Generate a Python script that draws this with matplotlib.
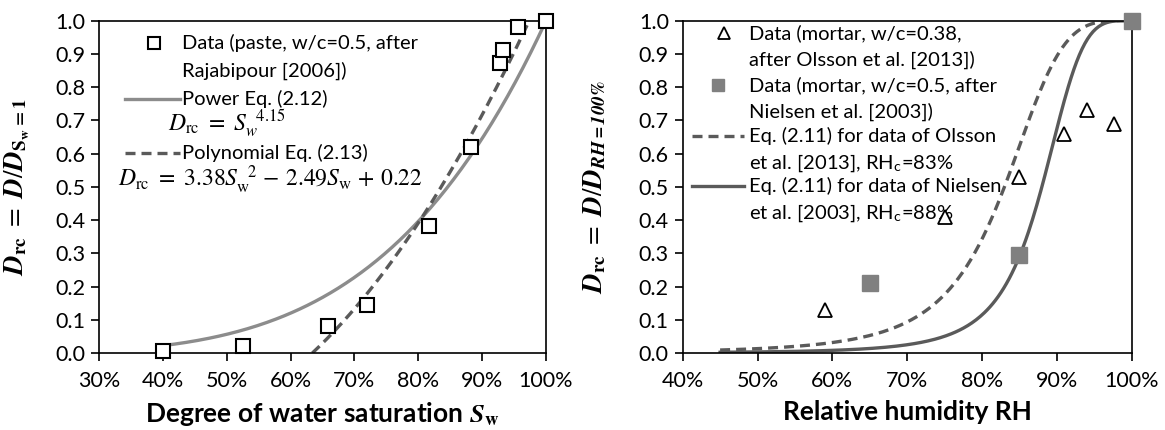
import numpy as np
import matplotlib
matplotlib.use("Agg")
from matplotlib import pyplot as plt
from matplotlib.ticker import PercentFormatter, MultipleLocator

plt.rcParams['font.family'] = ['Lato', 'DejaVu Sans']
plt.rcParams['mathtext.fontset'] = 'stix'

# left panel: paste data after Rajabipour [2006]
sw_data = [0.40, 0.526, 0.659, 0.720, 0.816, 0.883, 0.928, 0.932, 0.956, 1.0]
drc_sw_data = [0.005, 0.022, 0.082, 0.143, 0.381, 0.619, 0.872, 0.912, 0.982, 1.0]
power_exp = 4.15
poly_coef = [3.38, -2.49, 0.22]
sw_power_range = [0.40, 1.0]
sw_poly_range = [0.634, 1.0]

# right panel: mortar data
rh_olsson = [0.59, 0.75, 0.85, 0.91, 0.94, 0.976]
drc_olsson = [0.13, 0.41, 0.53, 0.66, 0.73, 0.69]
rh_nielsen = [0.65, 0.85, 1.0]
drc_nielsen = [0.21, 0.295, 1.0]
rh_c = [0.83, 0.88]
eq_exp = 4
rh_range = [0.45, 1.0]

c_light = '#8c8c8c'
c_dark = '#5a5a5a'
c_fill = '#808080'
fs = 14.5


def style_axes(ax, xmin):
    ax.set_xlim(xmin, 1.0)
    ax.set_ylim(0, 1.0)
    ax.xaxis.set_major_locator(MultipleLocator(0.1))
    ax.yaxis.set_major_locator(MultipleLocator(0.1))
    ax.xaxis.set_major_formatter(PercentFormatter(xmax=1, decimals=0))
    ax.yaxis.set_major_formatter(lambda v, p: '%.1f' % v)
    ax.tick_params(direction='out', length=6, width=1.2, labelsize=15.5, colors='black')
    ax.tick_params(axis='x', pad=7)
    ax.tick_params(axis='y', pad=4)
    for s in ax.spines.values():
        s.set_linewidth(1.2)
        s.set_color('black')


fig = plt.figure(figsize=(11.65, 4.30), dpi=100)
ax1 = fig.add_axes([0.085, 0.179, 0.3837, 0.773])
ax2 = fig.add_axes([0.586, 0.179, 0.3854, 0.773])

# ---- left
style_axes(ax1, 0.3)
s = np.linspace(sw_power_range[0], sw_power_range[1], 200)
ax1.plot(s, s ** power_exp, color=c_light, lw=2.4)
s2 = np.linspace(sw_poly_range[0], sw_poly_range[1], 200)
ax1.plot(s2, np.polyval(poly_coef, s2), color=c_dark, lw=2.4, dashes=(3, 1.8))
ax1.plot(sw_data, drc_sw_data, 's', ms=10, mfc='white', mec='black', mew=1.5, clip_on=False, zorder=5)

ax1.set_xlabel(r'Degree of water saturation $\mathbfit{S}_{\mathbf{w}}$', fontsize=19, fontweight='bold')
ax1.xaxis.set_label_coords(0.5, -0.14)
ax1.set_ylabel(r'$\mathbfit{D}_{\mathbf{rc}}\ =\ \mathbfit{D}/\mathbfit{D}_{\mathbf{S_w=1}}$', fontsize=19.5)
ax1.yaxis.set_label_coords(-0.15, 0.5)

# legend drawn by hand
tr = ax1.transAxes
ax1.plot([0.123], [0.932], 's', ms=9, mfc='white', mec='black', mew=1.5, transform=tr)
ax1.text(0.186, 0.932, 'Data (paste, w/c=0.5, after', transform=tr, fontsize=fs, va='center')
ax1.text(0.186, 0.848, 'Rajabipour [2006])', transform=tr, fontsize=fs, va='center')
ax1.plot([0.058, 0.181], [0.764, 0.764], color=c_light, lw=2.4, transform=tr)
ax1.text(0.186, 0.764, 'Power Eq. (2.12)', transform=tr, fontsize=fs, va='center')
ax1.text(0.154, 0.69, r'$D_{\mathrm{rc}}\ =\ S_w^{\ \ 4.15}$', transform=tr, fontsize=17, va='center')
ax1.plot([0.058, 0.181], [0.601, 0.601], color=c_dark, lw=2.4, dashes=(3, 1.8), transform=tr)
ax1.text(0.186, 0.601, 'Polynomial Eq. (2.13)', transform=tr, fontsize=fs, va='center')
ax1.text(0.0425, 0.52,
         r'$D_{\mathrm{rc}}\ =\ 3.38S_{\mathrm{w}}^{\ \ 2}\,-\,2.49S_{\mathrm{w}}\,+\,0.22$',
         transform=tr, fontsize=17, va='center')

# ---- right
style_axes(ax2, 0.4)
h = np.linspace(rh_range[0], rh_range[1], 300)
ax2.plot(h, 1 / (1 + ((1 - h) / (1 - rh_c[0])) ** eq_exp), color=c_dark, lw=2.4, dashes=(3, 1.8))
ax2.plot(h, 1 / (1 + ((1 - h) / (1 - rh_c[1])) ** eq_exp), color=c_dark, lw=2.4)
ax2.plot(rh_olsson, drc_olsson, '^', ms=10, mfc='white', mec='black', mew=1.3, clip_on=False, zorder=5)
ax2.plot(rh_nielsen, drc_nielsen, 's', ms=11, mfc=c_fill, mec=c_fill, clip_on=False, zorder=5)

ax2.set_xlabel('Relative humidity RH', fontsize=19, fontweight='bold')
ax2.xaxis.set_label_coords(0.5, -0.14)
ax2.set_ylabel(r'$\mathbfit{D}_{\mathbf{rc}}\ =\ \mathbfit{D}/\mathbfit{D}_{\mathbfit{RH=100\%}}$', fontsize=19.5)
ax2.yaxis.set_label_coords(-0.168, 0.5)

tr = ax2.transAxes
ax2.plot([0.0915], [0.962], '^', ms=8, mfc='white', mec='black', mew=1.3, transform=tr)
ax2.plot([0.079], [0.807], 's', ms=9, mfc=c_fill, mec=c_fill, transform=tr)
ax2.plot([0.021, 0.137], [0.652, 0.652], color=c_dark, lw=2.4, dashes=(3, 1.8), transform=tr)
ax2.plot([0.021, 0.137], [0.502, 0.502], color=c_dark, lw=2.4, transform=tr)
leg_lines = ['Data (mortar, w/c=0.38,', 'after Olsson et al. [2013])',
             'Data (mortar, w/c=0.5, after', 'Nielsen et al. [2003])',
             'Eq. (2.11) for data of Olsson', r'et al. [2013], RH$_{\mathregular{c}}$=83%',
             'Eq. (2.11) for data of Nielsen', r'et al. [2003], RH$_{\mathregular{c}}$=88%']
leg_y = [0.962, 0.882, 0.807, 0.727, 0.652, 0.572, 0.502, 0.422]
for t, y in zip(leg_lines, leg_y):
    ax2.text(0.147, y, t, transform=tr, fontsize=fs, va='center')

fig.savefig('out.png', dpi=100)
